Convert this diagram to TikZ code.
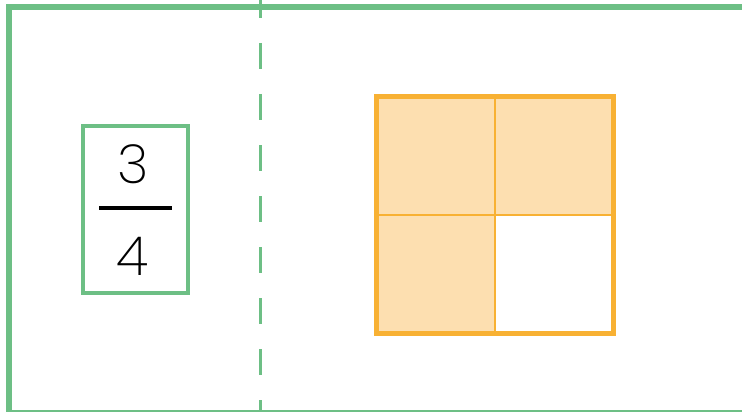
\documentclass[tikz,border=0pt]{standalone}
\usepackage{fontspec}
\setmainfont{Poppins}[UprightFont=* ExtraLight]
\definecolor{brdgreen}{HTML}{6DBF85}
\definecolor{sqorange}{HTML}{F8B133}
\definecolor{sqfill}{HTML}{FDDFB0}
\tikzset{
  greenline/.style={draw=brdgreen, line width=6pt},
  fracbox/.style={draw=brdgreen, line width=4pt, minimum width=105pt, minimum height=167pt, inner sep=0pt},
  digit/.style={font=\fontsize{54}{54}\selectfont, inner sep=0pt, anchor=base},
}
\begin{document}
\begin{tikzpicture}[x=1pt,y=-1pt]
\useasboundingbox (0,0) rectangle (742,412);
\begin{scope}
\clip (0,0) rectangle (742,412);
% dashed divider
\draw[draw=brdgreen, line width=3pt, dash pattern=on 26pt off 25pt] (260,-8) -- (260,420);
% outer border
\draw[greenline] (9,7) rectangle (744.5,413);
\end{scope}
% fraction box
\node[fracbox] (box) at (135.5,209.5) {};
\node[digit] (num) at (133,183) {3};
\node[digit] (den) at (133,275) {4};
\draw[line width=4pt] (99,208) -- (172,208);
% grid square
\fill[sqfill] (376.5,96.5) rectangle (613.5,333.5);
\fill[white] (495,215) rectangle (613.5,333.5);
\draw[draw=sqorange, line width=2.5pt] (495,96.5) -- (495,333.5);
\draw[draw=sqorange, line width=2.5pt] (376.5,215) -- (613.5,215);
\draw[draw=sqorange, line width=5pt] (376.5,96.5) rectangle (613.5,333.5);
\end{tikzpicture}
\end{document}
